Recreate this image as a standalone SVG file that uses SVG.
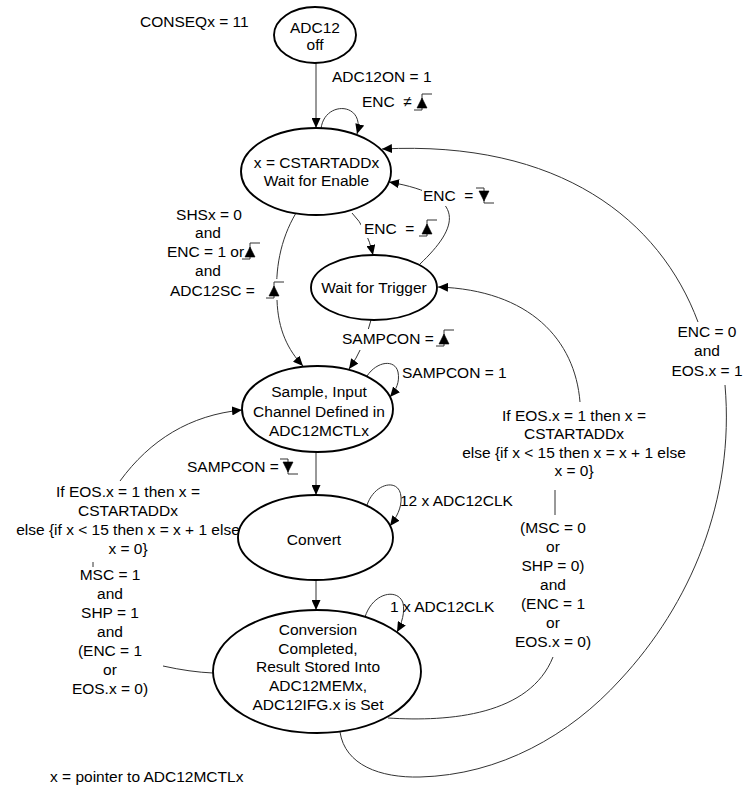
<svg xmlns="http://www.w3.org/2000/svg" width="753" height="789" viewBox="0 0 753 789">
<style>
text{font-family:"Liberation Sans",Arial,sans-serif;font-size:15.5px;fill:#000}
.c{text-anchor:middle}
.node ellipse{fill:#fff;stroke:#000;stroke-width:1.9}
.conn{fill:none;stroke:#333;stroke-width:1}
.sl{fill:none;stroke:#333;stroke-width:1}
.st{fill:#000;stroke:#000;stroke-width:0.6}
.bg{fill:#fff}
</style>
<defs>
<marker id="arr" viewBox="0 0 10 9" refX="10" refY="4.5" markerWidth="10" markerHeight="9" orient="auto" markerUnits="userSpaceOnUse"><path d="M0,0 L10,4.5 L0,9 Z" fill="#000"/></marker>
<g id="rise"><path class="sl" d="M-8,2 H0 V-14 H10"/><path class="st" d="M0,-10 L5,0 L-5,0 Z"/></g>
<g id="fall"><path class="sl" d="M-8,-14 H0 V1 H10"/><path class="st" d="M0,-1 L5,-11 L-5,-11 Z"/></g>
</defs>
<rect width="753" height="789" fill="#fff"/>

<g id="connectors">
<path class="conn" d="M316,63 V128" marker-end="url(#arr)"/>
<path class="conn" d="M321,129 C324,100 366,102 357,134" marker-end="url(#arr)"/>
<path class="conn" d="M352,213 Q367,228 373,255" marker-end="url(#arr)"/>
<path class="conn" d="M420,264 C458,228 470,196 389,182" marker-end="url(#arr)"/>
<path class="conn" d="M296,213 C280,240 275,270 277,300 C278,330 288,350 303,366" marker-end="url(#arr)"/>
<path class="conn" d="M371,320 Q364,348 349,369" marker-end="url(#arr)"/>
<path class="conn" d="M367,376 C377,361 395,359 398,372 C400,382 396,390 390,397" marker-end="url(#arr)"/>
<path class="conn" d="M316,452 V495" marker-end="url(#arr)"/>
<path class="conn" d="M367,505 C375,482 400,478 401,497 C402,508 396,518 390,526" marker-end="url(#arr)"/>
<path class="conn" d="M316,580 V610" marker-end="url(#arr)"/>
<path class="conn" d="M365,617 C373,592 398,588 403,603 C405,612 402,623 397,632" marker-end="url(#arr)"/>
<path class="conn" d="M213,673 Q190,672 163,666"/>
<path class="conn" d="M120,481 C150,440 190,415 242,410" marker-end="url(#arr)"/>
<path class="conn" d="M93,562 V567"/>
<path class="conn" d="M388,718 C450,722 530,715 553,657"/>
<path class="conn" d="M555,490 V515"/>
<path class="conn" d="M580,402 C575,340 530,290 438,287" marker-end="url(#arr)"/>
<path class="conn" d="M340,732 C345,765 380,778 420,777 C500,775 570,735 620,680 C690,605 735,500 725,385"/>
<path class="conn" d="M698,322 C660,220 560,140 382,149" marker-end="url(#arr)"/>
</g>

<g id="node-off" class="node">
<ellipse cx="315" cy="35" rx="41" ry="28"/>
<text class="c" x="315" y="33">ADC12</text>
<text class="c" x="315" y="50">off</text>
</g>
<g id="node-wait-enable" class="node">
<ellipse cx="316" cy="171.5" rx="75" ry="43.5"/>
<text class="c" x="316.5" y="168">x = CSTARTADDx</text>
<text class="c" x="316.5" y="186">Wait for Enable</text>
</g>
<g id="node-wait-trigger" class="node">
<ellipse cx="374" cy="287.5" rx="63" ry="32.5"/>
<text class="c" x="374" y="293">Wait for Trigger</text>
</g>
<g id="node-sample" class="node">
<ellipse cx="317.5" cy="409" rx="75.5" ry="43"/>
<text class="c" x="319" y="397">Sample, Input</text>
<text class="c" x="319" y="417">Channel Defined in</text>
<text class="c" x="319" y="436">ADC12MCTLx</text>
</g>
<g id="node-convert" class="node">
<ellipse cx="315.5" cy="537.5" rx="77.5" ry="42.5"/>
<text class="c" x="314" y="545">Convert</text>
</g>
<g id="node-complete" class="node">
<ellipse cx="317" cy="671.5" rx="104" ry="61.5"/>
<text class="c" x="318" y="635">Conversion</text>
<text class="c" x="318" y="654">Completed,</text>
<text class="c" x="318" y="672">Result Stored Into</text>
<text class="c" x="318" y="691">ADC12MEMx,</text>
<text class="c" x="318" y="710">ADC12IFG.x is Set</text>
</g>

<g id="labels">
<text x="140" y="27">CONSEQx = 11</text>
<text x="332" y="82">ADC12ON = 1</text>
<text x="362" y="107" xml:space="preserve">ENC  ≠</text>
<use href="#rise" x="422" y="108"/>

<rect class="bg" x="422" y="186" width="76" height="20"/>
<text x="423" y="201" xml:space="preserve">ENC  =</text>
<use href="#fall" x="484" y="202"/>

<rect class="bg" x="361" y="218" width="76" height="20"/>
<text x="364" y="234" xml:space="preserve">ENC  =</text>
<use href="#rise" x="427" y="234"/>

<text class="c" x="209" y="220">SHSx = 0</text>
<text class="c" x="208" y="238">and</text>
<text x="167" y="257">ENC = 1 or</text>
<use href="#rise" x="250" y="257"/>
<text class="c" x="208" y="276">and</text>
<text x="170" y="296">ADC12SC =</text>
<rect class="bg" x="263" y="279" width="23" height="21"/>
<use href="#rise" x="274" y="296"/>

<rect class="bg" x="340" y="329" width="116" height="21"/>
<text x="342" y="344">SAMPCON =</text>
<use href="#rise" x="444" y="344"/>

<text x="402" y="378">SAMPCON = 1</text>

<text x="187" y="472">SAMPCON =</text>
<use href="#fall" x="288" y="473"/>

<text class="c" x="128" y="497">If EOS.x = 1 then x =</text>
<text class="c" x="128" y="516">CSTARTADDx</text>
<text class="c" x="128" y="535">else {if x &lt; 15 then x = x + 1 else</text>
<text class="c" x="128" y="554">x = 0}</text>

<text class="c" x="110" y="580">MSC = 1</text>
<text class="c" x="110" y="599">and</text>
<text class="c" x="110" y="618">SHP = 1</text>
<text class="c" x="110" y="637">and</text>
<text class="c" x="110" y="656">(ENC = 1</text>
<text class="c" x="110" y="675">or</text>
<text class="c" x="110" y="694">EOS.x = 0)</text>

<text x="400" y="506">12 x ADC12CLK</text>
<text x="390" y="612">1 x ADC12CLK</text>

<text class="c" x="574" y="421">If EOS.x = 1 then x =</text>
<text class="c" x="574" y="439">CSTARTADDx</text>
<text class="c" x="574" y="458">else {if x &lt; 15 then x = x + 1 else</text>
<text class="c" x="574" y="476">x = 0}</text>

<text class="c" x="553" y="533">(MSC = 0</text>
<text class="c" x="553" y="552">or</text>
<text class="c" x="553" y="571">SHP = 0)</text>
<text class="c" x="553" y="590">and</text>
<text class="c" x="553" y="609">(ENC = 1</text>
<text class="c" x="553" y="628">or</text>
<text class="c" x="553" y="647">EOS.x = 0)</text>

<text class="c" x="707" y="337">ENC = 0</text>
<text class="c" x="707" y="356">and</text>
<text class="c" x="707" y="376">EOS.x = 1</text>

<text x="50" y="782">x = pointer to ADC12MCTLx</text>
</g>
</svg>
